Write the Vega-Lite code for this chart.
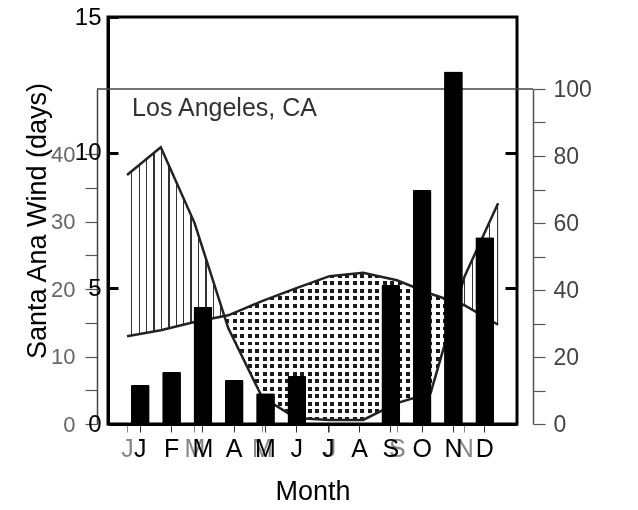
{
  "$schema": "https://vega.github.io/schema/vega-lite/v6.json",
  "width": 409,
  "height": 407,
  "autosize": {"type": "none"},
  "padding": {"left": 108, "top": 17, "right": 121, "bottom": 86},
  "background": "white",
  "config": {
    "view": {"stroke": "black", "strokeWidth": 3},
    "font": "Liberation Sans",
    "axis": {"grid": false, "labelOverlap": false, "labelFlush": false}
  },
  "datasets": {
    "wind": [
      {"month": "Jan", "days": 1.44},
      {"month": "Feb", "days": 1.93},
      {"month": "Mar", "days": 4.32},
      {"month": "Apr", "days": 1.62},
      {"month": "May", "days": 1.13},
      {"month": "Jun", "days": 1.77},
      {"month": "Jul", "days": 0},
      {"month": "Aug", "days": 0},
      {"month": "Sep", "days": 5.12},
      {"month": "Oct", "days": 8.62},
      {"month": "Nov", "days": 12.99},
      {"month": "Dec", "days": 6.88}
    ],
    "climate": [
      {"m": 1, "P": 36.9, "E": 13.0},
      {"m": 2, "P": 41.0, "E": 13.9},
      {"m": 3, "P": 29.8, "E": 15.1},
      {"m": 4, "P": 14.2, "E": 16.1},
      {"m": 5, "P": 4.0, "E": 18.2},
      {"m": 6, "P": 0.9, "E": 20.1},
      {"m": 7, "P": 0.6, "E": 21.9},
      {"m": 8, "P": 0.6, "E": 22.4},
      {"m": 9, "P": 3.1, "E": 21.3},
      {"m": 10, "P": 4.6, "E": 19.3},
      {"m": 11, "P": 21.8, "E": 17.6},
      {"m": 12, "P": 32.7, "E": 14.7}
    ],
    "surplusA": [
      {"m": 1, "top": 36.9, "bot": 13.0},
      {"m": 2, "top": 41.0, "bot": 13.9},
      {"m": 3, "top": 29.8, "bot": 15.1},
      {"m": 3.87, "top": 16.0, "bot": 16.0}
    ],
    "surplusB": [
      {"m": 10.78, "top": 18.0, "bot": 18.0},
      {"m": 11, "top": 21.8, "bot": 17.6},
      {"m": 12, "top": 32.7, "bot": 14.7}
    ],
    "deficit": [
      {"m": 3.87, "top": 16.0, "bot": 16.0},
      {"m": 4, "top": 16.1, "bot": 14.2},
      {"m": 5, "top": 18.2, "bot": 4.0},
      {"m": 6, "top": 20.1, "bot": 0.9},
      {"m": 7, "top": 21.9, "bot": 0.6},
      {"m": 8, "top": 22.4, "bot": 0.6},
      {"m": 9, "top": 21.3, "bot": 3.1},
      {"m": 10, "top": 19.3, "bot": 4.6},
      {"m": 10.78, "top": 18.0, "bot": 18.0}
    ]
  },
  "layer": [
    {
      "layer": [
        {
          "layer": [
            {
              "data": {"name": "deficit"},
              "mark": {
                "type": "area", "clip": false,
                "fill": {
                  "gradient": "linear", "x1": 0, "x2": 1, "y1": 0, "y2": 0,
                  "stops": [
                    {"offset": 0, "color": "white"},
                    {"offset": 0.0060, "color": "white"}, {"offset": 0.0060, "color": "#1a1a1a"}, {"offset": 0.0232, "color": "#1a1a1a"}, {"offset": 0.0232, "color": "white"},
                    {"offset": 0.0382, "color": "white"}, {"offset": 0.0382, "color": "#1a1a1a"}, {"offset": 0.0554, "color": "#1a1a1a"}, {"offset": 0.0554, "color": "white"},
                    {"offset": 0.0704, "color": "white"}, {"offset": 0.0704, "color": "#1a1a1a"}, {"offset": 0.0876, "color": "#1a1a1a"}, {"offset": 0.0876, "color": "white"},
                    {"offset": 0.1027, "color": "white"}, {"offset": 0.1027, "color": "#1a1a1a"}, {"offset": 0.1199, "color": "#1a1a1a"}, {"offset": 0.1199, "color": "white"},
                    {"offset": 0.1349, "color": "white"}, {"offset": 0.1349, "color": "#1a1a1a"}, {"offset": 0.1521, "color": "#1a1a1a"}, {"offset": 0.1521, "color": "white"},
                    {"offset": 0.1671, "color": "white"}, {"offset": 0.1671, "color": "#1a1a1a"}, {"offset": 0.1843, "color": "#1a1a1a"}, {"offset": 0.1843, "color": "white"},
                    {"offset": 0.1993, "color": "white"}, {"offset": 0.1993, "color": "#1a1a1a"}, {"offset": 0.2165, "color": "#1a1a1a"}, {"offset": 0.2165, "color": "white"},
                    {"offset": 0.2315, "color": "white"}, {"offset": 0.2315, "color": "#1a1a1a"}, {"offset": 0.2487, "color": "#1a1a1a"}, {"offset": 0.2487, "color": "white"},
                    {"offset": 0.2638, "color": "white"}, {"offset": 0.2638, "color": "#1a1a1a"}, {"offset": 0.2810, "color": "#1a1a1a"}, {"offset": 0.2810, "color": "white"},
                    {"offset": 0.2960, "color": "white"}, {"offset": 0.2960, "color": "#1a1a1a"}, {"offset": 0.3132, "color": "#1a1a1a"}, {"offset": 0.3132, "color": "white"},
                    {"offset": 0.3282, "color": "white"}, {"offset": 0.3282, "color": "#1a1a1a"}, {"offset": 0.3454, "color": "#1a1a1a"}, {"offset": 0.3454, "color": "white"},
                    {"offset": 0.3604, "color": "white"}, {"offset": 0.3604, "color": "#1a1a1a"}, {"offset": 0.3776, "color": "#1a1a1a"}, {"offset": 0.3776, "color": "white"},
                    {"offset": 0.3926, "color": "white"}, {"offset": 0.3926, "color": "#1a1a1a"}, {"offset": 0.4098, "color": "#1a1a1a"}, {"offset": 0.4098, "color": "white"},
                    {"offset": 0.4249, "color": "white"}, {"offset": 0.4249, "color": "#1a1a1a"}, {"offset": 0.4421, "color": "#1a1a1a"}, {"offset": 0.4421, "color": "white"},
                    {"offset": 0.4571, "color": "white"}, {"offset": 0.4571, "color": "#1a1a1a"}, {"offset": 0.4743, "color": "#1a1a1a"}, {"offset": 0.4743, "color": "white"},
                    {"offset": 0.4893, "color": "white"}, {"offset": 0.4893, "color": "#1a1a1a"}, {"offset": 0.5065, "color": "#1a1a1a"}, {"offset": 0.5065, "color": "white"},
                    {"offset": 0.5215, "color": "white"}, {"offset": 0.5215, "color": "#1a1a1a"}, {"offset": 0.5387, "color": "#1a1a1a"}, {"offset": 0.5387, "color": "white"},
                    {"offset": 0.5537, "color": "white"}, {"offset": 0.5537, "color": "#1a1a1a"}, {"offset": 0.5709, "color": "#1a1a1a"}, {"offset": 0.5709, "color": "white"},
                    {"offset": 0.5860, "color": "white"}, {"offset": 0.5860, "color": "#1a1a1a"}, {"offset": 0.6032, "color": "#1a1a1a"}, {"offset": 0.6032, "color": "white"},
                    {"offset": 0.6182, "color": "white"}, {"offset": 0.6182, "color": "#1a1a1a"}, {"offset": 0.6354, "color": "#1a1a1a"}, {"offset": 0.6354, "color": "white"},
                    {"offset": 0.6504, "color": "white"}, {"offset": 0.6504, "color": "#1a1a1a"}, {"offset": 0.6676, "color": "#1a1a1a"}, {"offset": 0.6676, "color": "white"},
                    {"offset": 0.6826, "color": "white"}, {"offset": 0.6826, "color": "#1a1a1a"}, {"offset": 0.6998, "color": "#1a1a1a"}, {"offset": 0.6998, "color": "white"},
                    {"offset": 0.7148, "color": "white"}, {"offset": 0.7148, "color": "#1a1a1a"}, {"offset": 0.7320, "color": "#1a1a1a"}, {"offset": 0.7320, "color": "white"},
                    {"offset": 0.7471, "color": "white"}, {"offset": 0.7471, "color": "#1a1a1a"}, {"offset": 0.7643, "color": "#1a1a1a"}, {"offset": 0.7643, "color": "white"},
                    {"offset": 0.7793, "color": "white"}, {"offset": 0.7793, "color": "#1a1a1a"}, {"offset": 0.7965, "color": "#1a1a1a"}, {"offset": 0.7965, "color": "white"},
                    {"offset": 0.8115, "color": "white"}, {"offset": 0.8115, "color": "#1a1a1a"}, {"offset": 0.8287, "color": "#1a1a1a"}, {"offset": 0.8287, "color": "white"},
                    {"offset": 0.8437, "color": "white"}, {"offset": 0.8437, "color": "#1a1a1a"}, {"offset": 0.8609, "color": "#1a1a1a"}, {"offset": 0.8609, "color": "white"},
                    {"offset": 0.8759, "color": "white"}, {"offset": 0.8759, "color": "#1a1a1a"}, {"offset": 0.8931, "color": "#1a1a1a"}, {"offset": 0.8931, "color": "white"},
                    {"offset": 0.9082, "color": "white"}, {"offset": 0.9082, "color": "#1a1a1a"}, {"offset": 0.9254, "color": "#1a1a1a"}, {"offset": 0.9254, "color": "white"},
                    {"offset": 0.9404, "color": "white"}, {"offset": 0.9404, "color": "#1a1a1a"}, {"offset": 0.9576, "color": "#1a1a1a"}, {"offset": 0.9576, "color": "white"},
                    {"offset": 0.9726, "color": "white"}, {"offset": 0.9726, "color": "#1a1a1a"}, {"offset": 0.9898, "color": "#1a1a1a"}, {"offset": 0.9898, "color": "white"},
                    {"offset": 1, "color": "white"}
                  ]
                }
              },
              "encoding": {
                "x": {
                  "field": "m", "type": "quantitative", "title": null,
                  "scale": {"domain": [0.436, 12.56], "nice": false, "zero": false},
                  "axis": {
                    "orient": "bottom",
                    "values": [1, 2, 3, 4, 5, 6, 7, 8, 9, 10, 11, 12],
                    "labelExpr": "['J','F','M','A','M','J','J','A','S','O','N','D'][round(datum.value)-1]",
                    "labelFont": "Liberation Sans",
                    "labelFontSize": 25,
                    "labelColor": "#888",
                    "labelPadding": 4,
                    "tickSize": 8,
                    "tickColor": "#888",
                    "tickWidth": 1,
                    "domainColor": "#666",
                    "domainWidth": 1
                  }
                },
                "y": {
                  "field": "top", "type": "quantitative", "title": null,
                  "scale": {"domain": [0, 49.63], "range": [407, 72], "nice": false},
                  "axis": {
                    "orient": "left",
                    "offset": 11,
                    "values": [0, 5, 10, 15, 20, 25, 30, 35, 40],
                    "labelExpr": "datum.value % 10 == 0 ? datum.label : ''",
                    "labelFont": "Liberation Sans",
                    "labelFontSize": 22,
                    "labelColor": "#666",
                    "labelPadding": 10,
                    "tickSize": 12,
                    "tickColor": "#555",
                    "tickWidth": 1.2,
                    "domainColor": "#444",
                    "domainWidth": 1.5
                  }
                },
                "y2": {"field": "bot"}
              }
            },
            {
              "data": {"name": "deficit"},
              "mark": {
                "type": "area", "clip": false, "blend": "lighten",
                "fill": {
                  "gradient": "linear", "x1": 0, "x2": 0, "y1": 0, "y2": 1,
                  "stops": [
                    {"offset": 0, "color": "white"},
                    {"offset": 0.008, "color": "white"}, {"offset": 0.008, "color": "#1a1a1a"}, {"offset": 0.035, "color": "#1a1a1a"}, {"offset": 0.035, "color": "white"},
                    {"offset": 0.059, "color": "white"}, {"offset": 0.059, "color": "#1a1a1a"}, {"offset": 0.086, "color": "#1a1a1a"}, {"offset": 0.086, "color": "white"},
                    {"offset": 0.110, "color": "white"}, {"offset": 0.110, "color": "#1a1a1a"}, {"offset": 0.137, "color": "#1a1a1a"}, {"offset": 0.137, "color": "white"},
                    {"offset": 0.161, "color": "white"}, {"offset": 0.161, "color": "#1a1a1a"}, {"offset": 0.188, "color": "#1a1a1a"}, {"offset": 0.188, "color": "white"},
                    {"offset": 0.212, "color": "white"}, {"offset": 0.212, "color": "#1a1a1a"}, {"offset": 0.239, "color": "#1a1a1a"}, {"offset": 0.239, "color": "white"},
                    {"offset": 0.263, "color": "white"}, {"offset": 0.263, "color": "#1a1a1a"}, {"offset": 0.290, "color": "#1a1a1a"}, {"offset": 0.290, "color": "white"},
                    {"offset": 0.314, "color": "white"}, {"offset": 0.314, "color": "#1a1a1a"}, {"offset": 0.341, "color": "#1a1a1a"}, {"offset": 0.341, "color": "white"},
                    {"offset": 0.365, "color": "white"}, {"offset": 0.365, "color": "#1a1a1a"}, {"offset": 0.392, "color": "#1a1a1a"}, {"offset": 0.392, "color": "white"},
                    {"offset": 0.416, "color": "white"}, {"offset": 0.416, "color": "#1a1a1a"}, {"offset": 0.443, "color": "#1a1a1a"}, {"offset": 0.443, "color": "white"},
                    {"offset": 0.467, "color": "white"}, {"offset": 0.467, "color": "#1a1a1a"}, {"offset": 0.494, "color": "#1a1a1a"}, {"offset": 0.494, "color": "white"},
                    {"offset": 0.518, "color": "white"}, {"offset": 0.518, "color": "#1a1a1a"}, {"offset": 0.545, "color": "#1a1a1a"}, {"offset": 0.545, "color": "white"},
                    {"offset": 0.569, "color": "white"}, {"offset": 0.569, "color": "#1a1a1a"}, {"offset": 0.596, "color": "#1a1a1a"}, {"offset": 0.596, "color": "white"},
                    {"offset": 0.620, "color": "white"}, {"offset": 0.620, "color": "#1a1a1a"}, {"offset": 0.647, "color": "#1a1a1a"}, {"offset": 0.647, "color": "white"},
                    {"offset": 0.671, "color": "white"}, {"offset": 0.671, "color": "#1a1a1a"}, {"offset": 0.698, "color": "#1a1a1a"}, {"offset": 0.698, "color": "white"},
                    {"offset": 0.722, "color": "white"}, {"offset": 0.722, "color": "#1a1a1a"}, {"offset": 0.749, "color": "#1a1a1a"}, {"offset": 0.749, "color": "white"},
                    {"offset": 0.773, "color": "white"}, {"offset": 0.773, "color": "#1a1a1a"}, {"offset": 0.800, "color": "#1a1a1a"}, {"offset": 0.800, "color": "white"},
                    {"offset": 0.824, "color": "white"}, {"offset": 0.824, "color": "#1a1a1a"}, {"offset": 0.851, "color": "#1a1a1a"}, {"offset": 0.851, "color": "white"},
                    {"offset": 0.875, "color": "white"}, {"offset": 0.875, "color": "#1a1a1a"}, {"offset": 0.902, "color": "#1a1a1a"}, {"offset": 0.902, "color": "white"},
                    {"offset": 0.926, "color": "white"}, {"offset": 0.926, "color": "#1a1a1a"}, {"offset": 0.953, "color": "#1a1a1a"}, {"offset": 0.953, "color": "white"},
                    {"offset": 0.977, "color": "white"}, {"offset": 0.977, "color": "#1a1a1a"}, {"offset": 1, "color": "#1a1a1a"}
                  ]
                }
              },
              "encoding": {
                "x": {"field": "m", "type": "quantitative", "title": null},
                "y": {"field": "top", "type": "quantitative", "title": null},
                "y2": {"field": "bot"}
              }
            },
            {
              "data": {"name": "surplusA"},
              "mark": {
                "type": "area", "clip": false,
                "fill": {
                  "gradient": "linear", "x1": 0, "x2": 1, "y1": 0, "y2": 0,
                  "stops": [
                    {"offset": 0, "color": "white"},
                    {"offset": 0.042, "color": "white"}, {"offset": 0.042, "color": "#333"}, {"offset": 0.056, "color": "#333"}, {"offset": 0.056, "color": "white"},
                    {"offset": 0.119, "color": "white"}, {"offset": 0.119, "color": "#333"}, {"offset": 0.133, "color": "#333"}, {"offset": 0.133, "color": "white"},
                    {"offset": 0.195, "color": "white"}, {"offset": 0.195, "color": "#333"}, {"offset": 0.209, "color": "#333"}, {"offset": 0.209, "color": "white"},
                    {"offset": 0.272, "color": "white"}, {"offset": 0.272, "color": "#333"}, {"offset": 0.286, "color": "#333"}, {"offset": 0.286, "color": "white"},
                    {"offset": 0.348, "color": "white"}, {"offset": 0.348, "color": "#333"}, {"offset": 0.362, "color": "#333"}, {"offset": 0.362, "color": "white"},
                    {"offset": 0.425, "color": "white"}, {"offset": 0.425, "color": "#333"}, {"offset": 0.439, "color": "#333"}, {"offset": 0.439, "color": "white"},
                    {"offset": 0.502, "color": "white"}, {"offset": 0.502, "color": "#333"}, {"offset": 0.516, "color": "#333"}, {"offset": 0.516, "color": "white"},
                    {"offset": 0.578, "color": "white"}, {"offset": 0.578, "color": "#333"}, {"offset": 0.592, "color": "#333"}, {"offset": 0.592, "color": "white"},
                    {"offset": 0.655, "color": "white"}, {"offset": 0.655, "color": "#333"}, {"offset": 0.669, "color": "#333"}, {"offset": 0.669, "color": "white"},
                    {"offset": 0.731, "color": "white"}, {"offset": 0.731, "color": "#333"}, {"offset": 0.745, "color": "#333"}, {"offset": 0.745, "color": "white"},
                    {"offset": 0.808, "color": "white"}, {"offset": 0.808, "color": "#333"}, {"offset": 0.822, "color": "#333"}, {"offset": 0.822, "color": "white"},
                    {"offset": 0.885, "color": "white"}, {"offset": 0.885, "color": "#333"}, {"offset": 0.899, "color": "#333"}, {"offset": 0.899, "color": "white"},
                    {"offset": 0.961, "color": "white"}, {"offset": 0.961, "color": "#333"}, {"offset": 0.975, "color": "#333"}, {"offset": 0.975, "color": "white"},
                    {"offset": 1, "color": "white"}
                  ]
                }
              },
              "encoding": {
                "x": {"field": "m", "type": "quantitative", "title": null},
                "y": {"field": "top", "type": "quantitative", "title": null},
                "y2": {"field": "bot"}
              }
            },
            {
              "data": {"name": "surplusB"},
              "mark": {
                "type": "area", "clip": false,
                "fill": {
                  "gradient": "linear", "x1": 0, "x2": 1, "y1": 0, "y2": 0,
                  "stops": [
                    {"offset": 0, "color": "white"},
                    {"offset": 0.163, "color": "white"}, {"offset": 0.163, "color": "#333"}, {"offset": 0.193, "color": "#333"}, {"offset": 0.193, "color": "white"},
                    {"offset": 0.365, "color": "white"}, {"offset": 0.365, "color": "#333"}, {"offset": 0.395, "color": "#333"}, {"offset": 0.395, "color": "white"},
                    {"offset": 0.581, "color": "white"}, {"offset": 0.581, "color": "#333"}, {"offset": 0.611, "color": "#333"}, {"offset": 0.611, "color": "white"},
                    {"offset": 0.774, "color": "white"}, {"offset": 0.774, "color": "#333"}, {"offset": 0.804, "color": "#333"}, {"offset": 0.804, "color": "white"},
                    {"offset": 0.966, "color": "white"}, {"offset": 0.966, "color": "#333"}, {"offset": 1, "color": "#333"}
                  ]
                }
              },
              "encoding": {
                "x": {"field": "m", "type": "quantitative", "title": null},
                "y": {"field": "top", "type": "quantitative", "title": null},
                "y2": {"field": "bot"}
              }
            },
            {
              "data": {"name": "climate"},
              "mark": {"type": "line", "color": "#222", "strokeWidth": 2.5, "clip": false},
              "encoding": {
                "x": {"field": "m", "type": "quantitative", "title": null},
                "y": {"field": "P", "type": "quantitative", "title": null}
              }
            },
            {
              "data": {"name": "climate"},
              "mark": {"type": "line", "color": "#222", "strokeWidth": 2.5, "clip": false},
              "encoding": {
                "x": {"field": "m", "type": "quantitative", "title": null},
                "y": {"field": "E", "type": "quantitative", "title": null}
              }
            },
            {
              "data": {"values": [{"label": "Los Angeles, CA"}]},
              "mark": {"type": "text", "align": "left", "baseline": "alphabetic", "fontSize": 25, "color": "#333", "font": "Liberation Sans", "clip": false},
              "encoding": {
                "x": {"datum": 1.15, "type": "quantitative"},
                "y": {"datum": 45.6, "type": "quantitative"},
                "text": {"field": "label"}
              }
            }
          ]
        },
        {
          "data": {"values": [{"frame": "top"}]},
          "mark": {"type": "rule", "color": "#444", "strokeWidth": 1.5, "clip": false},
          "encoding": {
            "x": {"datum": 0.11, "type": "quantitative"},
            "x2": {"datum": 13.04},
            "y": {
              "datum": 100, "type": "quantitative",
              "scale": {"domain": [0, 100], "range": [407, 72], "nice": false},
              "axis": {
                "orient": "right",
                "offset": 16,
                "title": null,
                "values": [0, 10, 20, 30, 40, 50, 60, 70, 80, 90, 100],
                "labelExpr": "datum.value % 20 == 0 ? datum.label : ''",
                "labelFont": "Liberation Sans",
                "labelFontSize": 23,
                "labelColor": "#444",
                "labelPadding": 8,
                "tickSize": 12,
                "tickColor": "#555",
                "tickWidth": 1.2,
                "domainColor": "#555",
                "domainWidth": 1.5
              }
            }
          }
        }
      ],
      "resolve": {"scale": {"y": "independent"}, "axis": {"y": "independent"}}
    },
    {
      "data": {"name": "wind"},
      "mark": {"type": "bar", "color": "black", "cornerRadius": 1.5},
      "encoding": {
        "x": {
          "field": "month", "type": "nominal", "sort": null,
          "scale": {"paddingInner": 0.4, "paddingOuter": 0.73},
          "axis": {
            "orient": "bottom",
            "title": "Month",
            "titleFont": "Liberation Sans",
            "titleFontSize": 27,
            "titleFontWeight": "normal",
            "titleColor": "black",
            "titlePadding": 17,
            "labelExpr": "substring(datum.label, 0, 1)",
            "labelFont": "Liberation Sans",
            "labelFontSize": 25,
            "labelColor": "black",
            "labelAngle": 0,
            "labelPadding": 4,
            "tickSize": 8,
            "tickColor": "#333",
            "tickWidth": 1,
            "domainColor": "black",
            "domainWidth": 3
          }
        },
        "y": {
          "field": "days", "type": "quantitative",
          "scale": {"domain": [0, 15], "nice": false},
          "axis": {
            "orient": "left",
            "title": "Santa Ana Wind (days)",
            "titleFont": "Liberation Sans",
            "titleFontSize": 27,
            "titleFontWeight": "normal",
            "titleColor": "black",
            "titlePadding": 23,
            "values": [0, 5, 10, 15],
            "labelFont": "Liberation Sans",
            "labelFontSize": 24,
            "labelColor": "black",
            "labelAlign": "right",
            "labelPadding": 17,
            "tickSize": -10,
            "tickWidth": 3,
            "tickColor": "black",
            "domainColor": "black",
            "domainWidth": 3
          }
        }
      }
    },
    {
      "data": {"name": "wind"},
      "mark": {"type": "bar", "opacity": 0},
      "encoding": {
        "x": {"field": "month", "type": "nominal", "sort": null, "axis": null,
              "scale": {"paddingInner": 0.4, "paddingOuter": 0.73}},
        "y": {
          "field": "days", "type": "quantitative",
          "scale": {"domain": [0, 15], "nice": false},
          "axis": {
            "orient": "right",
            "title": null,
            "values": [5, 10],
            "labels": false,
            "domain": false,
            "tickSize": -12,
            "tickWidth": 3,
            "tickColor": "black"
          }
        }
      }
    }
  ],
  "resolve": {"scale": {"x": "independent", "y": "independent"}, "axis": {"x": "independent", "y": "independent"}}
}
